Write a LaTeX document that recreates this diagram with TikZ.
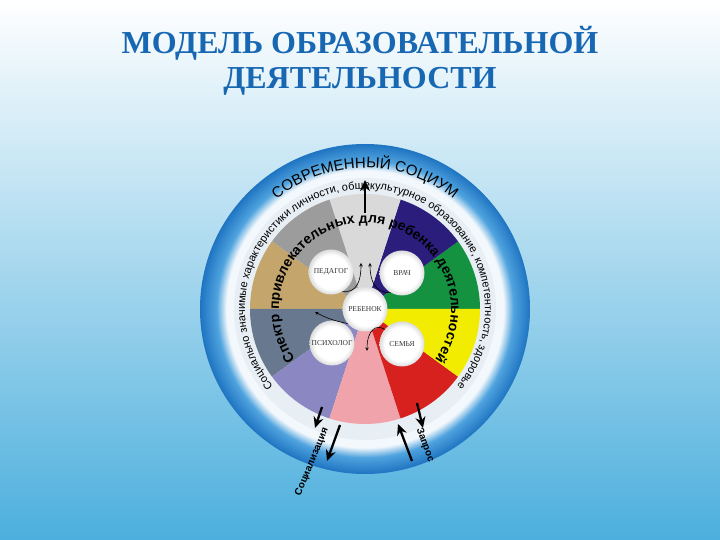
\documentclass[tikz,border=0pt]{standalone}
\usepackage{fontspec}
\setmainfont{Liberation Sans}
\newfontfamily\titlefont{Liberation Serif}
\usetikzlibrary{decorations.text,arrows.meta}
\definecolor{bgblue}{HTML}{4CAFDD}
\definecolor{bgmid}{HTML}{A6D5EE}
\definecolor{titleblue}{HTML}{1767B3}
\definecolor{ringlight}{HTML}{F3F8FC}
\definecolor{ringmid}{HTML}{4FA3DE}
\definecolor{ringdark}{HTML}{1F74C2}
\definecolor{ringinner}{HTML}{E7EEF4}
\definecolor{secgreen}{HTML}{15923F}
\definecolor{secnavy}{HTML}{2B1D7C}
\definecolor{seclight}{HTML}{D9D9D9}
\definecolor{secgray}{HTML}{9C9C9C}
\definecolor{sectan}{HTML}{C4A66D}
\definecolor{secslate}{HTML}{68788E}
\definecolor{seclav}{HTML}{8B87C2}
\definecolor{secpink}{HTML}{F0A3AA}
\definecolor{secred}{HTML}{D7211F}
\definecolor{secyellow}{HTML}{F2ED00}
\pgfdeclareradialshading{ringshade}{\pgfpoint{0bp}{0bp}}{color(0bp)=(ringlight); color(21bp)=(ringlight); color(22.5bp)=(ringmid); color(25bp)=(ringdark); color(50bp)=(ringdark)}
\pgfdeclareradialshading{discshade}{\pgfpoint{0bp}{0bp}}{color(0bp)=(white); color(19bp)=(white); color(25bp)=(black!14); color(50bp)=(black!14)}
\tikzstyle{title}=[font=\titlefont\bfseries\fontsize{32}{32}\selectfont,text=titleblue]
\tikzstyle{disc}=[circle,shade,shading=discshade,minimum size=45pt,inner sep=0pt,font=\titlefont\fontsize{7.5}{8}\selectfont,text=black!80]
\tikzstyle{flow}=[semithick,->,>=stealth]
\tikzstyle{bigflow}=[line width=2.3pt,-{Stealth[length=11pt,width=10pt]}]
\tikzstyle{side}=[font=\bfseries\fontsize{10}{10}\selectfont]

\begin{document}
\begin{tikzpicture}[x=1pt,y=1pt]
\useasboundingbox (-365,-231) rectangle (355,309);
\shade[top color=white,middle color=bgmid,bottom color=bgblue] (-365,-231) rectangle (355,309);
\node[title] (T1) at (-5,266) {МОДЕЛЬ ОБРАЗОВАТЕЛЬНОЙ};
\node[title] (T2) at (-5,228) {ДЕЯТЕЛЬНОСТИ};
% outer ring
\shade[shading=ringshade] (0,0) circle (165);
\fill[ringinner] (0,0) circle (131);
% sectors
\foreach \a/\c in {0/secgreen,36/secnavy,72/seclight,108/secgray,144/sectan,180/secslate,216/seclav,252/secpink,288/secred,324/secyellow}
	\fill[\c] (0,0) -- (\a:115) arc (\a:\a+36:115) -- cycle;
\path[decorate,decoration={text along path,text align=center,
	text={|\fontsize{15}{15}\selectfont|СОВРЕМЕННЫЙ СОЦИУМ}}] (170:141) arc (170:10:141);
\path[decorate,decoration={text along path,text align=center,
	text={|\fontsize{11}{12}\selectfont|Социально значимые характеристики личности, общекультурное образование, компетентность, здоровье}}] (234:120) arc (234:-54:120);
\path[decorate,decoration={text along path,text align=center,
	text={|\bfseries\fontsize{14}{15}\selectfont|Спектр привлекательных для ребенка деятельностей}}] (226:86) arc (226:-46:86);
% participants
\node[disc] (PED) at (-34,37) {ПЕДАГОГ};
\node[disc] (VRACH) at (37,36) {ВРАЧ};
\node[disc] (REB) at (0,0) {РЕБЕНОК};
\node[disc] (PSI) at (-33,-34) {ПСИХОЛОГ};
\node[disc] (SEM) at (37,-35) {СЕМЬЯ};
\coordinate (L) at (-4,46);
\coordinate (R) at (5,46);
\coordinate (toslate) at (-50,-3);
\coordinate (topink) at (2,-42);
\draw[flow] (PED.-60) .. controls (-8,16) and (-4,28) .. (L);
\draw[flow] (VRACH.240) .. controls (10,16) and (5,28) .. (R);
\draw[flow] (REB.220) to[bend left=8] (toslate);
\draw[flow] (SEM.140) .. controls (12,-15) and (2,-20) .. (topink);
% arrows to and from the ring
\coordinate (UA) at (0,96);
\coordinate (UB) at (0,129);
\coordinate (LA) at (-43,-98);
\coordinate (LB) at (-50,-119);
\coordinate (SA) at (-25,-116);
\coordinate (SB) at (-38,-152);
\coordinate (RA) at (52,-94);
\coordinate (RB) at (58,-119);
\coordinate (ZA) at (47,-152);
\coordinate (ZB) at (33,-115);
\draw[bigflow,line width=2pt] (UA)--(UB);
\draw[bigflow] (LA)--(LB);
\draw[bigflow] (SA)--(SB);
\draw[bigflow] (RA)--(RB);
\draw[bigflow] (ZA)--(ZB);
\node[side,rotate=67.5] (soc) at (-53,-153) {Социализация};
\node[side,rotate=-70] (zap) at (60,-136) {Запрос};
\end{tikzpicture}
\end{document}
